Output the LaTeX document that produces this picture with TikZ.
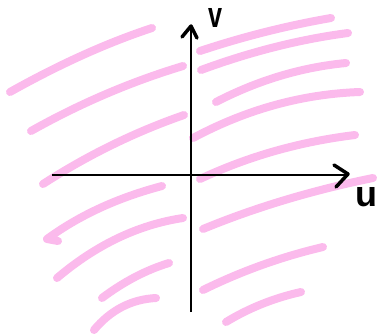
\documentclass[tikz,border=0pt]{standalone}
\usepackage{fontspec}
\setmainfont{Liberation Sans}
\definecolor{pinkhl}{RGB}{251,186,236}
\tikzset{
  hl/.style={draw=pinkhl, line width=8pt, line cap=round, line join=round},
  axisline/.style={draw=black, line width=2.2pt},
  chevron/.style={draw=black, line width=3.5pt, line cap=round, line join=round},
  lbl/.style={font=\fontsize{36}{36}\selectfont\bfseries, inner sep=0pt}
}
\begin{document}
\begin{tikzpicture}[x=1pt, y=-1pt]
\useasboundingbox (0,0) rectangle (378,335);
% pink hatching, left half
\draw[hl] (10,92) .. controls (60,64) and (107.3,42.7) .. (152,28);
\draw[hl] (31,131) .. controls (80.3,103.3) and (131,81.7) .. (183,66);
\draw[hl] (43,184) .. controls (88,155) and (135,132) .. (184,115);
\draw[hl] (58,241) -- (47,239) .. controls (79.3,215.3) and (117.7,197.7) .. (162,186);
\draw[hl] (57,278) .. controls (96.3,244.7) and (138.3,224.7) .. (183,218);
\draw[hl] (102,298) .. controls (123.7,281.7) and (146,270) .. (169,263);
\draw[hl] (94,330) .. controls (110.7,310) and (131.3,299.3) .. (156,298);
% pink hatching, right half
\draw[hl] (200,51) .. controls (243,36.7) and (286.7,25.7) .. (331,18);
\draw[hl] (201,70) .. controls (250.7,51.7) and (299.7,39.3) .. (348,33);
\draw[hl] (216,102) .. controls (258,80.3) and (301.3,67.3) .. (346,63);
\draw[hl] (193,138) .. controls (246.7,109.3) and (302.3,94) .. (360,92);
\draw[hl] (200,179) .. controls (248.3,156.3) and (300,141.7) .. (355,135);
\draw[hl] (203,229) .. controls (255.7,207.3) and (312.3,190.3) .. (373,178);
\draw[hl] (203,290) .. controls (241.7,271) and (281.7,256.7) .. (323,247);
\draw[hl] (226,322) .. controls (249,308) and (274,298) .. (301,292);
% axes
\coordinate (ubeg) at (52,175);
\coordinate (uend) at (346,175);
\coordinate (vbeg) at (191,312);
\coordinate (vend) at (191,26);
\draw[axisline] (ubeg) -- (uend);
\draw[axisline] (vbeg) -- (vend);
\draw[chevron] (182,37) -- (vend) -- (197,38);
\draw[chevron] (334,165) -- (348,174) -- (336,187);
% labels
\node[lbl, xscale=0.7, transform shape] (vlab) at (216,18) {v};
\node[lbl, transform shape] (ulab) at (366,197) {u};
\end{tikzpicture}
\end{document}
